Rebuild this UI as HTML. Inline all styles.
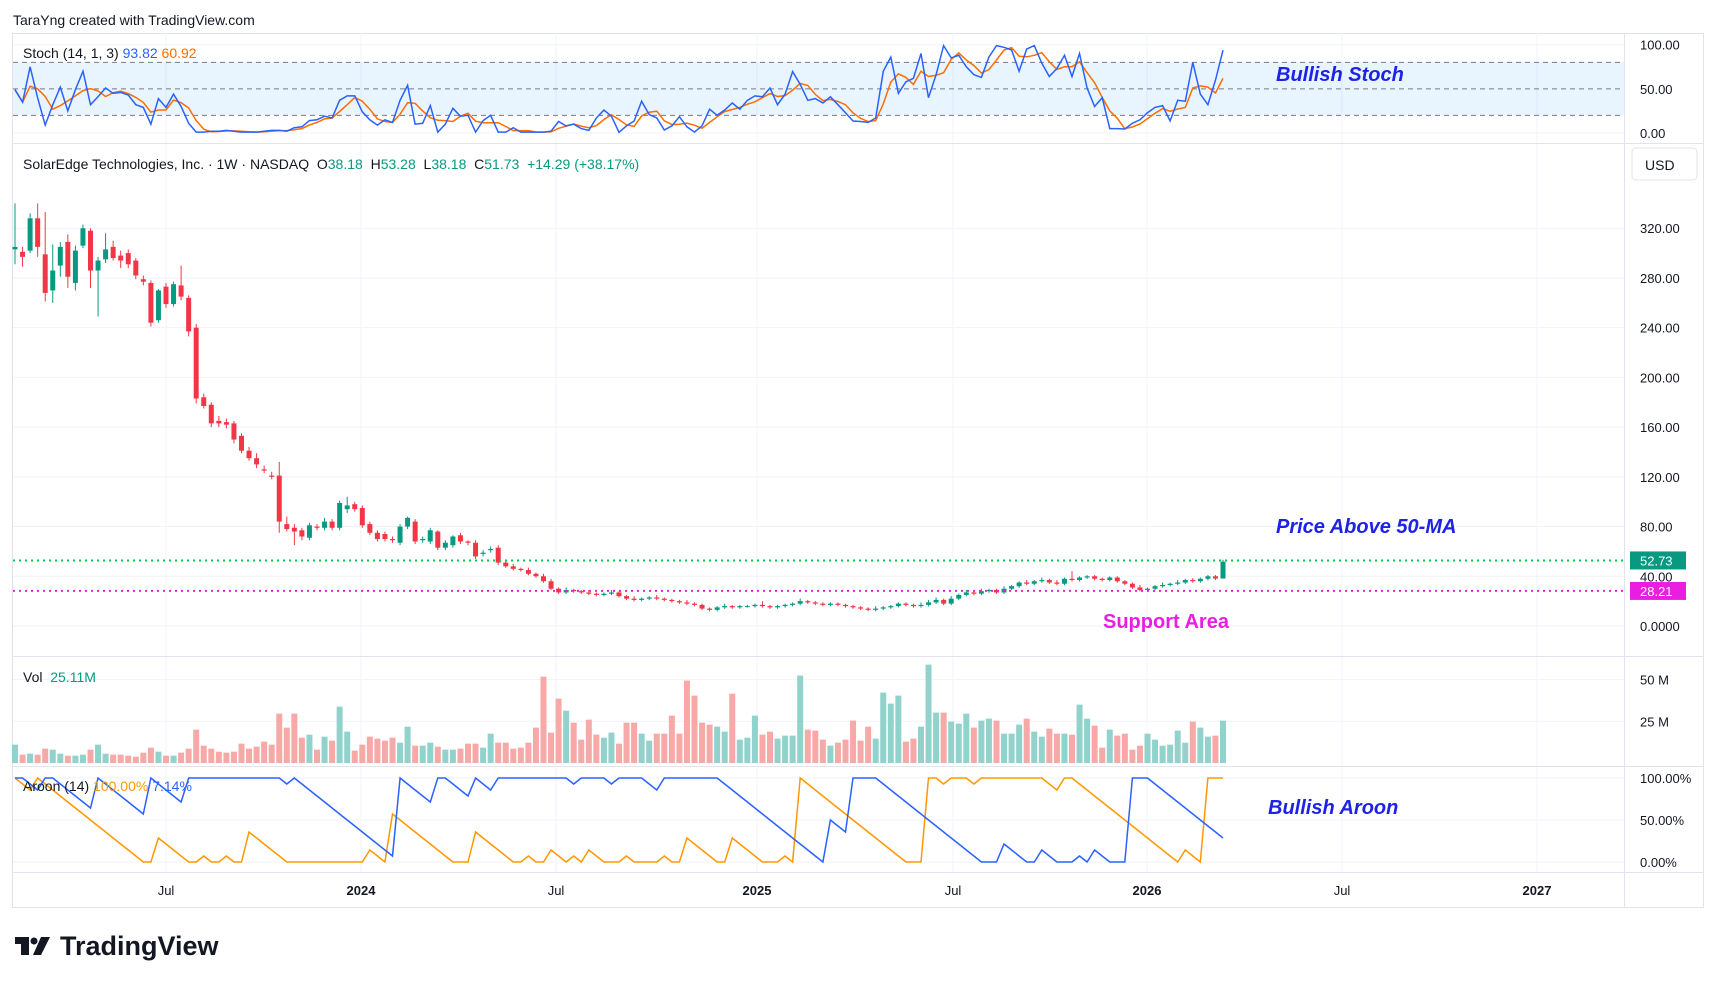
<!DOCTYPE html>
<html><head><meta charset="utf-8"><style>
body{margin:0;background:#fff;font-family:"Liberation Sans",sans-serif;}
svg text{font-family:"Liberation Sans",sans-serif;}
</style></head><body>
<svg id="chart" width="1717" height="982" viewBox="0 0 1717 982" xmlns="http://www.w3.org/2000/svg">
<rect width="1717" height="982" fill="#fff"/>
<text x="13" y="25" font-size="14" fill="#131722">TaraYng created with TradingView.com</text>
<rect x="12.5" y="33.5" width="1691" height="874" fill="none" stroke="#e0e3eb"/>
<g id="grid"></g>
<rect x="13" y="62" width="1611" height="53" fill="#2196f3" fill-opacity="0.1"/>
<g id="marks"></g>
<line x1="1624.5" y1="33" x2="1624.5" y2="907" stroke="#e0e3eb"/>
<line x1="13" y1="143.5" x2="1703" y2="143.5" stroke="#e0e3eb"/>
<line x1="13" y1="656.5" x2="1703" y2="656.5" stroke="#e0e3eb"/>
<line x1="13" y1="766.5" x2="1703" y2="766.5" stroke="#e0e3eb"/>
<line x1="13" y1="872.5" x2="1703" y2="872.5" stroke="#e0e3eb"/>
<g id="labels" font-size="13" fill="#131722"></g>
<text x="23" y="58" font-size="14" fill="#131722">Stoch (14, 1, 3) <tspan fill="#2962ff">93.82</tspan> <tspan fill="#ff6d00">60.92</tspan></text>
<text x="23" y="169" font-size="14" fill="#131722" xml:space="preserve">SolarEdge Technologies, Inc. · 1W · NASDAQ  O<tspan fill="#089981">38.18</tspan>  H<tspan fill="#089981">53.28</tspan>  L<tspan fill="#089981">38.18</tspan>  C<tspan fill="#089981">51.73</tspan>  <tspan fill="#089981">+14.29 (+38.17%)</tspan></text>
<text x="23" y="682" font-size="14" fill="#131722" xml:space="preserve">Vol  <tspan fill="#089981">25.11M</tspan></text>
<text x="23" y="791" font-size="14" fill="#131722">Aroon (14) <tspan fill="#ff9800">100.00%</tspan> <tspan fill="#2962ff">7.14%</tspan></text>
<rect x="1632" y="148" width="65" height="32" rx="4" fill="#fff" stroke="#e0e3eb"/>
<text x="1645" y="170" font-size="14" fill="#131722">USD</text>
<g font-style="italic" font-weight="bold" font-size="20">
<text x="1276" y="81" fill="#1e22e6">Bullish Stoch</text>
<text x="1276" y="533" fill="#1e22e6">Price Above 50-MA</text>
<text x="1103" y="628" fill="#e91ee0" font-style="normal">Support Area</text>
<text x="1268" y="814" fill="#1e22e6">Bullish Aroon</text>
</g>
<g>
<path d="M15 937h14v18h-8v-11h-6z" fill="#131722"/><circle cx="34" cy="941" r="3.5" fill="#131722"/><path d="M41 937h9l-9 18h-8z" fill="#131722"/>
<text x="60" y="955" font-size="27" font-weight="bold" fill="#131722">TradingView</text>
</g>
</svg>
<script>
const opens=[303,301,302,328,299,270,290,309,276,306,318,286,295,305,298,300,294,279,276,246,273,259,274,264,240,184,178,165,164,163,153,141,135,126,121,121,82,79,77,71,80,79,84,79,94,98,95,82,75,74,70,67,80,84,69,68,76,63,65,73,68,67,58,61,63];
const closes=[305,297,328,305,268,286,305,281,302,320,286,294,303,296,294,291,282,277,244,270,259,275,265,237,183,177,163,163,162,150,141,135,130,125,120,84,78,76,72,81,79,84,79,99,97,94,81,75,70,70,69,80,87,68,70,77,63,67,72,68,67,56,59,62,51,
48,46,45,42,40,36,30,27,29,28,27,26,25,26,27,24,22,21,22,23,22,21,20,19,18,17,14,13,15,16,15,16,16,17,16,15,16,17,18,20,19,18,17,18,17,16,15,14,13,14,15,16,18,17,16,17,19,21,18,22,25,27,26,28,29,27,30,32,35,34,36,37,35,34,38,37,39,40,38,37,39,36,34,31,29,30,32,33,34,35,37,36,38,40,38.18,51.73];
const wickUp=[35,4,4,12,34,21,4,6,4,3,2,3,13,5,4,3,2,3,2,1,3,2,16,2,3,3,2,4,3,2,2,3,4,3,3,11,6,3,2,2,2,3,2,2,7,2,2,2,2,2,2,2,1,2,2,2,1,2,1,2,1,2,2,2,2,
2,2,1,2,1,2,2,1,2,1,1,2,1,1,2,1,1,2,1,1,2,1,1,1,2,1,1,1,1,2,1,1,1,1,3,1,1,1,1,2,1,1,1,1,1,1,1,1,1,2,1,1,1,1,1,2,2,2,1,2,1,2,1,2,1,1,2,1,1,2,1,2,1,2,1,6,1,1,1,1,1,1,1,1,2,1,1,2,1,2,1,1.55];
const wickDn=[12,8,2,8,7,10,9,9,6,2,14,37,3,2,6,3,3,3,3,2,3,2,3,4,4,2,3,3,3,3,2,2,3,2,2,9,2,11,3,2,2,2,2,2,3,2,2,2,2,2,2,2,2,2,2,2,2,2,2,2,2,2,2,2,2];
const stochK=[49,35,75,40,9,32,52,25,49,70,32,41,51,45,46,43,32,29,10,39,29,44,30,11,1,1,2,2,3,2,1,1,1,2,3,3,2,6,7,14,
15,19,17,37,42,42,24,15,9,15,12,37,54,10,11,31,1,10,28,19,20,1,14,20,1,1,6,1,1,1,1,2,13,8,10,5,3,17,26,19,
0.8,8,13.6,36,21,17,3.4,8,18.5,7,1,8,27,20,26,34,27,37,42,41,51,32,44,69.5,55,37,39,34,41,32,23,13.6,13,12,17,70,86,45,58,62,90,40,66,99,85,88,75,66,63,86,99,97,94,70,95,99,79,64,73,88,64,90,51,30,40,5,5,4.5,11,15,23,29,31,13.6,37,36,80,44,32,60,93.82];
const volZ=[270,300,297,300,282,285,297,303,303,300,285,270,297,300,300,303,306,294,279,291,303,303,294,282,225,273,282,291,294,291,267,282,276,261,270,177,219,177,249,240,285,246,258,156,231,288,270,246,252,258,249,264,216,273,273,264,276,285,285,282,267,267,279,237,264,264,282,279,264,219,66,234,132,168,204,255,195,240,249,234,
267,204,204,237,258,237,237,183,237,78,123,204,210,216,231,117,255,249,183,240,231,252,243,243,63,225,228,255,273,264,255,198,258,216,252,114,147,123,261,252,216,30,174,174,201,207,177,219,198,192,198,237,237,210,192,231,246,222,237,237,240,150,192,213,279,225,243,237,285,273,237,255,273,270,228,264,201,219,246,243,198];
const volumeM=volZ.map(z=>(325-z)/5);
const priceTicks=[320,280,240,200,160,120,80,40];
const timeTicks=[["Jul",166,false],["2024",361,true],["Jul",556,false],["2025",757,true],["Jul",953,false],["2026",1147,true],["Jul",1342,false],["2027",1537,true]];

const NS="http://www.w3.org/2000/svg";
const N=closes.length;
const xOf=i=>15+7.55*i;
const yP=p=>626-p*1.243;
const yS=v=>133-v*0.883;
const yV=m=>763-m*1.668;
const yA=v=>862-v*0.84;
const O=[],H=[],L=[];
for(let i=0;i<N;i++){
 const o=i<opens.length?opens[i]:closes[i-1];
 O.push(o);
 H.push(Math.max(o,closes[i])+(wickUp[i]??1));
 L.push(Math.min(o,closes[i])-(wickDn[i]??1.2));
}
H[N-1]=53.28;L[N-1]=38.18;
function el(tag,attrs,parent){const e=document.createElementNS(NS,tag);for(const k in attrs)e.setAttribute(k,attrs[k]);parent.appendChild(e);return e;}
const grid=document.getElementById('grid'),marks=document.getElementById('marks'),labels=document.getElementById('labels');
timeTicks.forEach(t=>{el('line',{x1:t[1],y1:33,x2:t[1],y2:872,stroke:'#f0f3fa'},grid);});
priceTicks.concat([0]).forEach(p=>{el('line',{x1:13,y1:yP(p),x2:1624,y2:yP(p),stroke:'#f0f3fa'},grid);});
[100,0].forEach(v=>el('line',{x1:13,y1:yS(v),x2:1624,y2:yS(v),stroke:'#f0f3fa'},grid));
[50,25].forEach(v=>el('line',{x1:13,y1:yV(v),x2:1624,y2:yV(v),stroke:'#f0f3fa'},grid));
[100,50,0].forEach(v=>el('line',{x1:13,y1:yA(v),x2:1624,y2:yA(v),stroke:'#f0f3fa'},grid));
[80,50,20].forEach(v=>{const l=el('line',{x1:13,y1:yS(v),x2:1624,y2:yS(v),stroke:'#787b86','stroke-dasharray':'5,4'},marks);

});
const stochD=stochK.map((v,i)=>i<2?v:(stochK[i]+stochK[i-1]+stochK[i-2])/3);
function poly(arr,yf,color,name){const pts=arr.map((v,i)=>xOf(i).toFixed(1)+','+yf(v).toFixed(1)).join(' ');
 const p=el('polyline',{points:pts,fill:'none',stroke:color,'stroke-width':1.5},marks);
 
 }
poly(stochD,yS,'#ff6d00','stoch-d-line');
poly(stochK,yS,'#2962ff','stoch-k-line');
for(let i=0;i<N;i++){
 const up=closes[i]>=O[i];const c=up?'#089981':'#f23645';const x=xOf(i);
 const w=el('line',{x1:x,y1:yP(H[i]),x2:x,y2:yP(L[i]),stroke:c,'stroke-width':1},marks);
 
 
 const t=Math.min(yP(O[i]),yP(closes[i]));const h=Math.max(1,Math.abs(yP(O[i])-yP(closes[i])));
 const b=el('rect',{x:x-2.5,y:t,width:5,height:h,fill:c},marks);
 
 
 const vb=el('rect',{x:x-3,y:yV(volumeM[i]),width:6,height:763-yV(volumeM[i]),fill:up?'#92d2cc':'#f7a9a7'},marks);
 
 
}
const aUp=[],aDn=[];
for(let i=0;i<N;i++){let hi=-1,lo=-1;for(let j=Math.max(0,i-14);j<=i;j++){if(hi<0||H[j]>=H[hi])hi=j;if(lo<0||L[j]<=L[lo])lo=j;}
 aUp.push((14-(i-hi))/14*100);aDn.push((14-(i-lo))/14*100);}
poly(aUp,yA,'#ff9800','aroon-up-line');
poly(aDn,yA,'#2962ff','aroon-down-line');
const g1=el('line',{x1:13,y1:yP(52.73),x2:1624,y2:yP(52.73),stroke:'#00c853','stroke-width':2,'stroke-dasharray':'2,4'},marks);


const g2=el('line',{x1:13,y1:yP(28.21),x2:1624,y2:yP(28.21),stroke:'#e91ee0','stroke-width':2,'stroke-dasharray':'2,4'},marks);


function txt(x,y,s,extra){const t=el('text',Object.assign({x:x,y:y},extra||{}),labels);t.textContent=s;return t;}
priceTicks.forEach(p=>{const t=txt(1640,yP(p)+5,p.toFixed(2));});
txt(1640,yP(0)+5,'0.0000');
[[100,'100.00'],[50,'50.00'],[0,'0.00']].forEach(a=>txt(1640,yS(a[0])+5,a[1]));
[[50,'50 M'],[25,'25 M']].forEach(a=>txt(1640,yV(a[0])+5,a[1]));
[[100,'100.00%'],[50,'50.00%'],[0,'0.00%']].forEach(a=>txt(1640,yA(a[0])+5,a[1]));
timeTicks.forEach(t=>{const e=txt(t[1],895,t[0],{'text-anchor':'middle','font-weight':t[2]?'bold':'normal'});});
[[52.73,'#089981','#fff'],[28.21,'#e91ee0','#fff']].forEach(a=>{const r=el('rect',{x:1630,y:yP(a[0])-9,width:56,height:18,fill:a[1]},labels);


txt(1640,yP(a[0])+5,a[0].toFixed(2),{fill:a[2]});});
</script>
</body></html>
